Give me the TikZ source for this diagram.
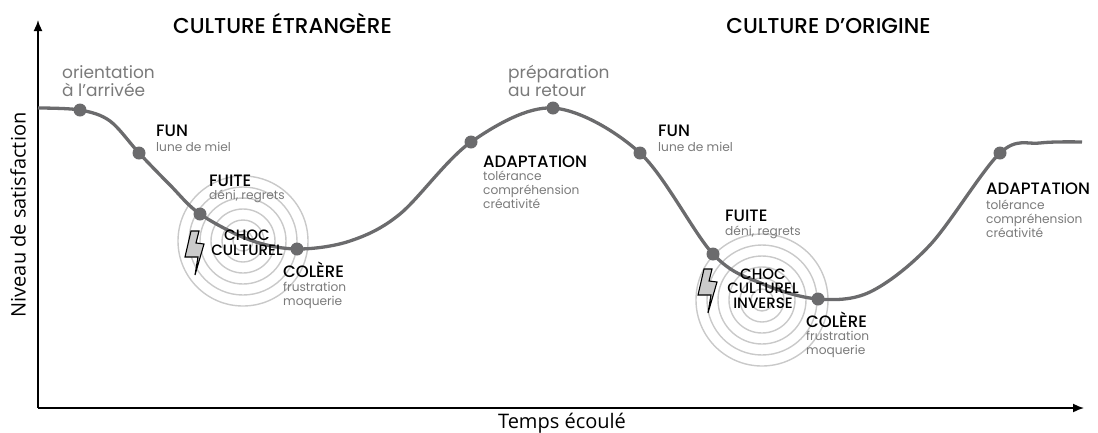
\documentclass[tikz,border=0pt]{standalone}
\usepackage{fontspec}
\setmainfont{Poppins}
\newfontfamily\medfont{Poppins Medium}
\newfontfamily\axisfont{Open Sans}
\usetikzlibrary{arrows.meta}
\definecolor{curvegray}{HTML}{6B6B6D}
\definecolor{subgray}{HTML}{7A7A7A}
\definecolor{ringgray}{HTML}{C9C9C9}
\definecolor{boltgray}{HTML}{CBCBCB}
\begin{document}
\begin{tikzpicture}[x=1pt,y=-1pt,
  curve/.style={line width=3.3pt, color=curvegray},
  dotnode/.style={circle, fill=curvegray, inner sep=0pt, minimum size=13pt},
  ring/.style={draw=ringgray, line width=1.4pt},
  head/.style={anchor=base west, inner sep=0pt, text=black, font=\medfont\fontsize{16.5}{18}\selectfont},
  sub/.style={anchor=base west, inner sep=0pt, text=subgray, align=left, font=\fontsize{12.2}{13.8}\selectfont},
  big/.style={anchor=base west, inner sep=0pt, text=subgray, align=left, font=\fontsize{17}{17.5}\selectfont},
  title/.style={anchor=base, inner sep=0pt, text=black, font=\medfont\fontsize{21.5}{24}\selectfont},
  choc/.style={anchor=base, inner sep=0pt, text=black, align=center, font=\medfont\fontsize{15}{14.5}\selectfont},
  axis/.style={line width=1.6pt, -{Latex[length=11pt,width=9pt]}},
  axislabel/.style={inner sep=0pt, text=black, font=\axisfont\fontsize{20}{22}\selectfont},
  bolt/.style={draw=black, fill=boltgray, line width=1.1pt, line join=miter}
]
\useasboundingbox (0,0) rectangle (1098,432);

% axes
\coordinate (origin) at (38,408);
\coordinate (ytop) at (38,20);
\coordinate (xend) at (1084,408);
\draw[axis] (origin) -- (ytop);
\draw[axis] (origin) -- (xend);
\node[axislabel, rotate=90] (ylab) at (18,215) {Niveau de satisfaction};
\node[axislabel, anchor=base] (xlab) at (562,428) {Temps écoulé};

% titles
\node[title] (t1) at (282.5,33) {CULTURE ÉTRANGÈRE};
\node[title] (t2) at (828.5,33) {CULTURE D’ORIGINE};

% rings
\foreach \r in {65,54,43,32,21,10} {
  \draw[ring] (243,241) circle[radius=\r];
  \draw[ring] (762,300) circle[radius=\r+1];
}

% bolts
\draw[bolt] (191,231) -- (199,231) -- (196,243) -- (204,244) -- (195,275) -- (198,257) -- (185,257) -- cycle;
\draw[bolt] (704,269) -- (712,269) -- (709,281) -- (717,282) -- (708,313) -- (711,295) -- (698,295) -- cycle;

% curve
\draw[curve] plot[smooth, tension=0.55] coordinates {
  (38,108) (80,110) (110,121) (139,153) (170,185) (200,214) (250,240) (297,249)
  (350,241) (400,214) (471,142) (553,108) (640,153) (713,254) (763,284) (818,299)
  (870,292) (930,245) (1000,153) (1040,143) (1082,142)};

% dots
\node[dotnode] (d1) at (80,110) {};
\node[dotnode] (d2) at (139,153) {};
\node[dotnode] (d3) at (200,214) {};
\node[dotnode] (d4) at (297,249) {};
\node[dotnode] (d5) at (471,142) {};
\node[dotnode] (d6) at (553,108) {};
\node[dotnode] (d7) at (640,153) {};
\node[dotnode] (d8) at (713,254) {};
\node[dotnode] (d9) at (818,299) {};
\node[dotnode] (d10) at (1000,153) {};

% labels (multi-line nodes are placed at the baseline of their last line)
\node[big] (l1) at (62,96) {orientation\\à l’arrivée};
\node[head] (l2) at (156,136) {FUN};
\node[sub] (l2s) at (156,151) {lune de miel};
\node[head] (l3) at (209,186) {FUITE};
\node[sub] (l3s) at (209,199) {déni, regrets};
\node[choc] (l4) at (247,255) {CHOC\\CULTUREL};
\node[head] (l5) at (283,277) {COLÈRE};
\node[sub] (l5s) at (283,305) {frustration\\moquerie};
\node[big] (l6) at (508,96) {préparation\\au retour};
\node[head] (l7) at (483,167) {ADAPTATION};
\node[sub] (l7s) at (483,208) {tolérance\\compréhension\\créativité};
\node[head] (l8) at (658,136) {FUN};
\node[sub] (l8s) at (658,151) {lune de miel};
\node[head] (l9) at (725,221) {FUITE};
\node[sub] (l9s) at (725,235) {déni, regrets};
\node[choc] (l10) at (763,308) {CHOC\\CULTUREL\\INVERSE};
\node[head] (l11) at (806,327) {COLÈRE};
\node[sub] (l11s) at (806,354) {frustration\\moquerie};
\node[head] (l12) at (986,194) {ADAPTATION};
\node[sub] (l12s) at (986,237) {tolérance\\compréhension\\créativité};
\end{tikzpicture}
\end{document}
